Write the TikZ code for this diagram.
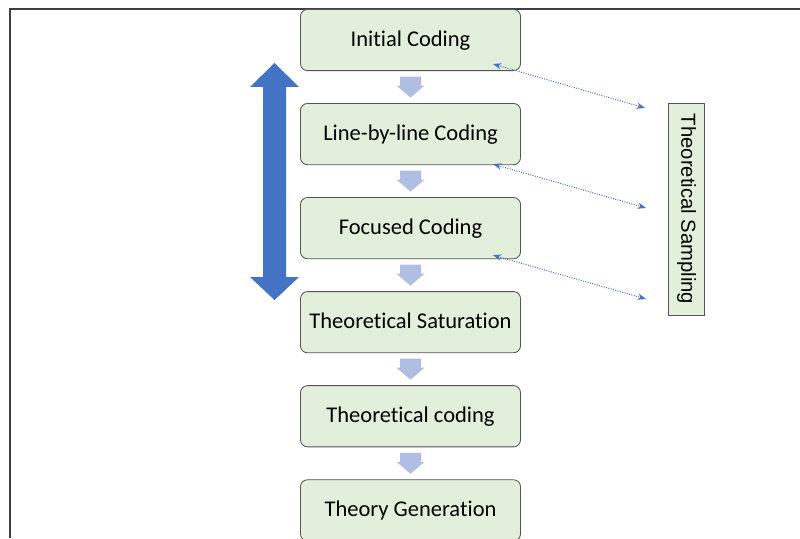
\documentclass[tikz,border=0pt]{standalone}
\usepackage{fontspec}
\setmainfont{Carlito}[Ligatures=NoCommon]
\newfontfamily\sidefont{Liberation Sans}
\usetikzlibrary{positioning, calc, arrows.meta}

\definecolor{boxfill}{HTML}{E2EFDA}
\definecolor{boxline}{HTML}{555555}
\definecolor{gaparrow}{HTML}{B0BEE2}
\definecolor{bigblue}{HTML}{4472C4}

\tikzset{
  stage/.style={draw=boxline, fill=boxfill, rounded corners=5pt, line width=0.6pt,
    minimum width=5.5cm, minimum height=1.53cm, inner sep=0pt,
    text height=11pt, text depth=2pt,
    font=\fontsize{16}{19}\selectfont},
  sampling/.style={draw=boxline, fill=boxfill, line width=0.6pt, rotate=-90,
    minimum width=5.3cm, minimum height=0.92cm, inner sep=0pt,
    font=\sidefont\fontsize{14.4}{17}\selectfont},
  link/.style={bigblue, densely dotted, line width=0.7pt,
    {Stealth[length=6pt,width=4.5pt]}-{Stealth[length=6pt,width=4.5pt]}}
}

\begin{document}
\begin{tikzpicture}[x=0.025cm, y=-0.025cm, node distance=0.8cm]
  \useasboundingbox (0,0) rectangle (800,538);
  \clip (0,0) rectangle (800,538);
  \fill[white] (0,0) rectangle (800,538);

  % frame
  \draw[black!75, line width=1.5pt] (10,538) -- (10,9) -- (800,9);

  % stages
  \node[stage] (ic) at (410.5,40) {Initial Coding};
  \node[stage] (lc) [below=of ic] {Line-by-line Coding};
  \node[stage] (fc) [below=of lc] {Focused Coding};
  \node[stage] (sat) [below=of fc] {Theoretical Saturation};
  \node[stage] (tc) [below=of sat] {Theoretical coding};
  \node[stage] (tg) [below=of tc] {Theory Generation};

  % arrows between stages
  \foreach \a/\b in {ic/lc, lc/fc, fc/sat, sat/tc, tc/tg}
    \fill[gaparrow, shift={($(\a.south)!0.5!(\b.north)$)}]
      (-10.5,-10.5) -- (10.5,-10.5) -- (10.5,-1.5) -- (14,-1.5)
      -- (0,10.5) -- (-14,-1.5) -- (-10.5,-1.5) -- cycle;

  % double arrow
  \fill[bigblue] (274.5,63) -- (299,87) -- (286,87) -- (286,277) -- (299,277)
    -- (274.5,300) -- (250,277) -- (263,277) -- (263,87) -- (250,87) -- cycle;

  % theoretical sampling
  \node[sampling] (ts) at (686.5,209) {Theoretical Sampling};
  \coordinate (t1) at (645,108);
  \coordinate (t2) at (646,208);
  \coordinate (t3) at (646,299);

  \draw[link] ($(ic.south east)+(-28,-7)$) -- (t1);
  \draw[link] ($(lc.south east)+(-28,-1)$) -- (t2);
  \draw[link] ($(fc.south east)+(-28,-4)$) -- (t3);
\end{tikzpicture}
\end{document}
